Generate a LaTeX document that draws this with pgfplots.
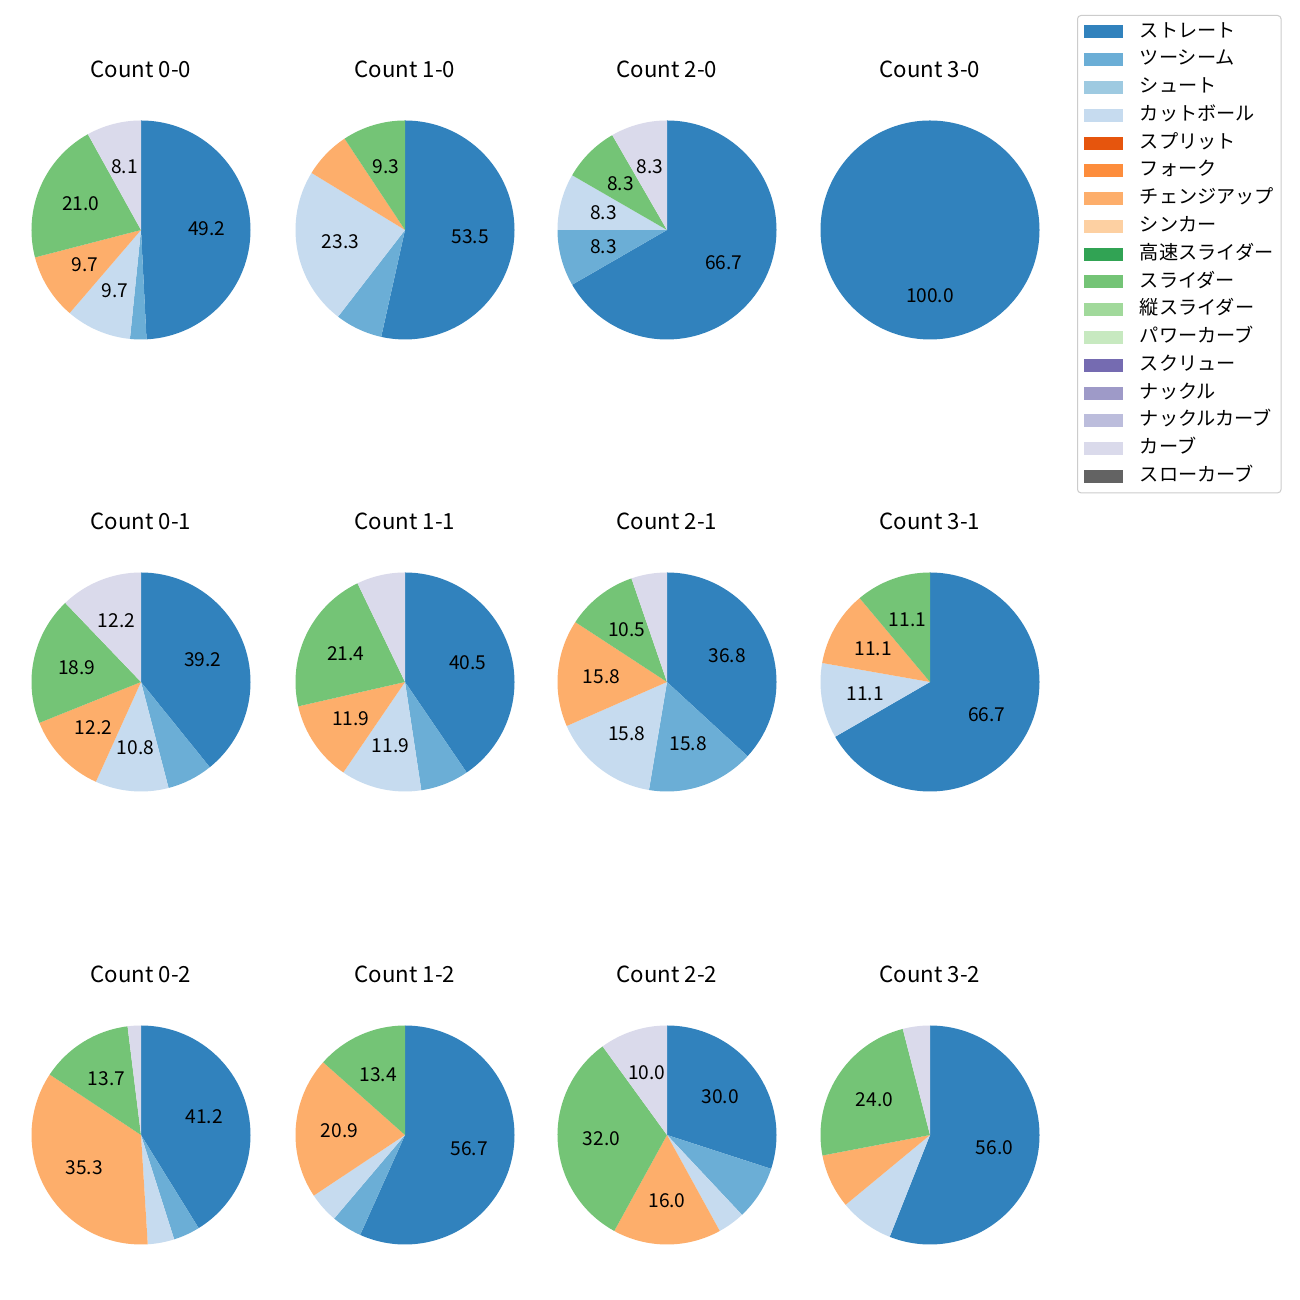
\documentclass[border=0pt]{standalone}
\usepackage{fontspec}
\setmainfont{Noto Sans CJK JP}
\usepackage{pgfplots}
\pgfplotsset{compat=1.18}
\definecolor{cA}{HTML}{3182BD}
\definecolor{cB}{HTML}{6BAED6}
\definecolor{cC}{HTML}{9ECAE1}
\definecolor{cD}{HTML}{C6DBEF}
\definecolor{cE}{HTML}{E6550D}
\definecolor{cF}{HTML}{FD8D3C}
\definecolor{cG}{HTML}{FDAE6B}
\definecolor{cH}{HTML}{FDD0A2}
\definecolor{cI}{HTML}{31A354}
\definecolor{cJ}{HTML}{74C476}
\definecolor{cK}{HTML}{A1D99B}
\definecolor{cL}{HTML}{C7E9C0}
\definecolor{cM}{HTML}{756BB1}
\definecolor{cN}{HTML}{9E9AC8}
\definecolor{cO}{HTML}{BCBDDC}
\definecolor{cP}{HTML}{DADAEB}
\definecolor{cQ}{HTML}{636363}
\newcommand{\labfont}{\fontsize{13.8}{16}\selectfont}
\newcommand{\ttlfont}{\fontsize{16}{20}\selectfont}
\pgfplotsset{pie/.style={hide axis, clip=false, x=78.84pt, y=78.84pt,
  xmin=-1, xmax=1, ymin=-1, ymax=1, anchor=center}}
% wedge: colour, start angle (deg), percentage (clockwise)
\newcommand{\pwedge}[3]{\addplot[fill=#1, draw=none, data cs=polar, forget plot]
  coordinates {(0,0) (#2,1)} arc[start angle=#2, delta angle=-3.6*#3, radius=78.84pt] -- cycle;}
\newcommand{\plabel}[2]{\path (axis cs:0,0) ++(#1:47.3pt) node[font=\labfont, inner sep=0pt] {#2};}
\newcommand{\ptitle}[1]{\node[font=\ttlfont, inner sep=0pt] at (axis cs:0,1.467) {#1};}
\begin{document}
\begin{tikzpicture}
\fill[white] (0pt,0pt) rectangle (936pt,936pt);
% ---------------- Count 0-0
\begin{axis}[pie, at={(101.52pt,770.4pt)}]
\pwedge{cA}{90}{49.194}
\pwedge{cB}{-87.097}{2.419}
\pwedge{cD}{-95.806}{9.677}
\pwedge{cG}{-130.645}{9.677}
\pwedge{cJ}{-165.484}{20.968}
\pwedge{cP}{-240.968}{8.065}
\plabel{1.452}{49.2}
\plabel{-113.226}{9.7}
\plabel{-148.065}{9.7}
\plabel{-203.226}{21.0}
\plabel{-255.484}{8.1}
\ptitle{Count 0-0}
\end{axis}
% ---------------- Count 1-0
\begin{axis}[pie, at={(291.6pt,770.4pt)}]
\pwedge{cA}{90}{53.488}
\pwedge{cB}{-102.558}{6.977}
\pwedge{cD}{-127.674}{23.256}
\pwedge{cG}{-211.395}{6.977}
\pwedge{cJ}{-236.512}{9.302}
\plabel{-6.279}{53.5}
\plabel{-169.535}{23.3}
\plabel{-253.256}{9.3}
\ptitle{Count 1-0}
\end{axis}
% ---------------- Count 2-0
\begin{axis}[pie, at={(480.24pt,770.4pt)}]
\pwedge{cA}{90}{66.667}
\pwedge{cB}{-150}{8.333}
\pwedge{cD}{-180}{8.333}
\pwedge{cJ}{-210}{8.333}
\pwedge{cP}{-240}{8.333}
\plabel{-30}{66.7}
\plabel{-165}{8.3}
\plabel{-195}{8.3}
\plabel{-225}{8.3}
\plabel{-255}{8.3}
\ptitle{Count 2-0}
\end{axis}
% ---------------- Count 3-0 (with legend)
\begin{axis}[pie, at={(669.6pt,770.4pt)},
  legend image code/.code={\fill[#1, draw=none, sharp corners] (0pt,-4.68pt) rectangle (27.4pt,4.68pt); \path (39.6pt,0pt);},
  legend cell align=left,
  legend style={at={(1.1712,1.4817)}, anchor=north west, draw=black!20, line width=0.72pt,
    rounded corners=2.5pt, fill=white, inner sep=5pt, font=\labfont, row sep=6.3pt,
    nodes={inner sep=0pt, text height=10.5pt, text depth=3.2pt}},
  legend entries={ストレート,ツーシーム,シュート,カットボール,スプリット,フォーク,チェンジアップ,シンカー,高速スライダー,スライダー,縦スライダー,パワーカーブ,スクリュー,ナックル,ナックルカーブ,カーブ,スローカーブ}]
\pwedge{cA}{90}{100}
\addlegendimage{fill=cA}
\addlegendimage{fill=cB}
\addlegendimage{fill=cC}
\addlegendimage{fill=cD}
\addlegendimage{fill=cE}
\addlegendimage{fill=cF}
\addlegendimage{fill=cG}
\addlegendimage{fill=cH}
\addlegendimage{fill=cI}
\addlegendimage{fill=cJ}
\addlegendimage{fill=cK}
\addlegendimage{fill=cL}
\addlegendimage{fill=cM}
\addlegendimage{fill=cN}
\addlegendimage{fill=cO}
\addlegendimage{fill=cP}
\addlegendimage{fill=cQ}
\plabel{-90}{100.0}
\ptitle{Count 3-0}
\end{axis}
% ---------------- Count 0-1
\begin{axis}[pie, at={(101.52pt,444.96pt)}]
\pwedge{cA}{90}{39.189}
\pwedge{cB}{-51.081}{6.757}
\pwedge{cD}{-75.405}{10.811}
\pwedge{cG}{-114.324}{12.162}
\pwedge{cJ}{-158.108}{18.919}
\pwedge{cP}{-226.216}{12.162}
\plabel{19.459}{39.2}
\plabel{-94.865}{10.8}
\plabel{-136.216}{12.2}
\plabel{-192.162}{18.9}
\plabel{-248.108}{12.2}
\ptitle{Count 0-1}
\end{axis}
% ---------------- Count 1-1
\begin{axis}[pie, at={(291.6pt,444.96pt)}]
\pwedge{cA}{90}{40.476}
\pwedge{cB}{-55.714}{7.143}
\pwedge{cD}{-81.429}{11.905}
\pwedge{cG}{-124.286}{11.905}
\pwedge{cJ}{-167.143}{21.429}
\pwedge{cP}{-244.286}{7.143}
\plabel{17.143}{40.5}
\plabel{-102.857}{11.9}
\plabel{-145.714}{11.9}
\plabel{-205.714}{21.4}
\ptitle{Count 1-1}
\end{axis}
% ---------------- Count 2-1
\begin{axis}[pie, at={(480.24pt,444.96pt)}]
\pwedge{cA}{90}{36.842}
\pwedge{cB}{-42.632}{15.789}
\pwedge{cD}{-99.474}{15.789}
\pwedge{cG}{-156.316}{15.789}
\pwedge{cJ}{-213.158}{10.526}
\pwedge{cP}{-251.053}{5.263}
\plabel{23.684}{36.8}
\plabel{-71.053}{15.8}
\plabel{-127.895}{15.8}
\plabel{-184.737}{15.8}
\plabel{-232.105}{10.5}
\ptitle{Count 2-1}
\end{axis}
% ---------------- Count 3-1
\begin{axis}[pie, at={(669.6pt,444.96pt)}]
\pwedge{cA}{90}{66.667}
\pwedge{cD}{-150}{11.111}
\pwedge{cG}{-190}{11.111}
\pwedge{cJ}{-230}{11.111}
\plabel{-30}{66.7}
\plabel{-170}{11.1}
\plabel{-210}{11.1}
\plabel{-250}{11.1}
\ptitle{Count 3-1}
\end{axis}
% ---------------- Count 0-2
\begin{axis}[pie, at={(101.52pt,118.8pt)}]
\pwedge{cA}{90}{41.176}
\pwedge{cB}{-58.235}{3.922}
\pwedge{cD}{-72.353}{3.922}
\pwedge{cG}{-86.471}{35.294}
\pwedge{cJ}{-213.529}{13.725}
\pwedge{cP}{-262.941}{1.961}
\plabel{15.882}{41.2}
\plabel{-150.0}{35.3}
\plabel{-238.235}{13.7}
\ptitle{Count 0-2}
\end{axis}
% ---------------- Count 1-2
\begin{axis}[pie, at={(291.6pt,118.8pt)}]
\pwedge{cA}{90}{56.716}
\pwedge{cB}{-114.179}{4.478}
\pwedge{cD}{-130.299}{4.478}
\pwedge{cG}{-146.418}{20.896}
\pwedge{cJ}{-221.642}{13.433}
\plabel{-12.090}{56.7}
\plabel{-184.030}{20.9}
\plabel{-245.821}{13.4}
\ptitle{Count 1-2}
\end{axis}
% ---------------- Count 2-2
\begin{axis}[pie, at={(480.24pt,118.8pt)}]
\pwedge{cA}{90}{30}
\pwedge{cB}{-18}{8}
\pwedge{cD}{-46.8}{4}
\pwedge{cG}{-61.2}{16}
\pwedge{cJ}{-118.8}{32}
\pwedge{cP}{-234}{10}
\plabel{36}{30.0}
\plabel{-90}{16.0}
\plabel{-176.4}{32.0}
\plabel{-252}{10.0}
\ptitle{Count 2-2}
\end{axis}
% ---------------- Count 3-2
\begin{axis}[pie, at={(669.6pt,118.8pt)}]
\pwedge{cA}{90}{56}
\pwedge{cD}{-111.6}{8}
\pwedge{cG}{-140.4}{8}
\pwedge{cJ}{-169.2}{24}
\pwedge{cP}{-255.6}{4}
\plabel{-10.8}{56.0}
\plabel{-212.4}{24.0}
\ptitle{Count 3-2}
\end{axis}
\end{tikzpicture}
\end{document}
